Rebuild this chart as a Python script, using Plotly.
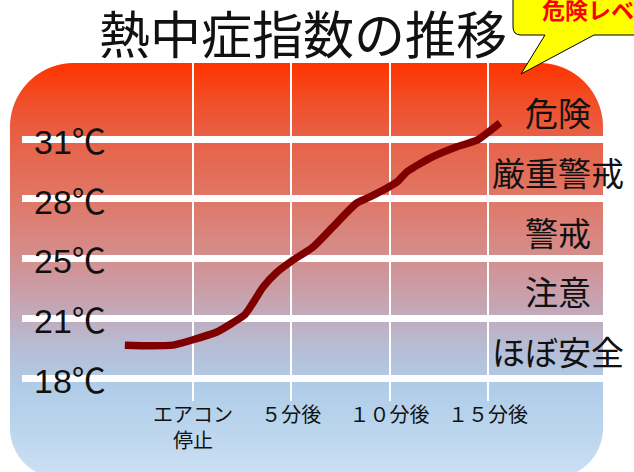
import base64, struct, zlib
import numpy as np
import plotly.graph_objects as go

W, H = 634, 472

# ---- data ----
title_text = "熱中症指数の推移"
x_tick_vals = [0, 5, 10, 15]
x_tick_text = ["エアコン<br>停止", "５分後", "１０分後", "１５分後"]
y_tick_vals = [0, 1, 2, 3, 4]
y_tick_text = ["18℃", "21℃", "25℃", "28℃", "31℃"]
band_labels = ["ほぼ安全", "注意", "警戒", "厳重警戒", "危険"]
callout_text = "危険レベル"

minutes = [-3.46, -2.19, -1.02, 0.0, 1.22, 2.0, 2.64, 3.25, 3.56, 4.27, 5.08,
           6.10, 7.12, 8.34, 9.0, 10.37, 10.88, 12.05, 13.42, 14.44, 15.61]
heat_level = [0.55, 0.54, 0.55, 0.64, 0.77, 0.92, 1.06, 1.36, 1.52, 1.77, 1.97,
              2.19, 2.53, 2.93, 3.03, 3.28, 3.45, 3.68, 3.87, 3.98, 4.27]

# ---- background gradient image (decoration) ----
stops_y = [63, 100, 140, 200, 260, 310, 345, 385, 430, 476]
stops_c = [(255, 51, 0), (242, 78, 40), (232, 98, 72), (224, 120, 104),
           (212, 144, 144), (196, 168, 184), (184, 188, 212), (176, 204, 232),
           (188, 214, 238), (204, 224, 244)]
yy, xx = np.mgrid[0:H, 0:W].astype(float)
py = yy + 0.5
px = xx + 0.5
cols = np.stack([np.interp(py, stops_y, [c[k] for c in stops_c]) for k in range(3)], axis=-1)
X0, X1, Y0, Y1 = 10.0, 603.0, 63.0, 478.0
cx, cy = (X0 + X1) / 2, (Y0 + Y1) / 2
bx, by = (X1 - X0) / 2, (Y1 - Y0) / 2
r = np.where(py < cy, 64.0, 50.0)
qx = np.abs(px - cx) - bx + r
qy = np.abs(py - cy) - by + r
d = np.sqrt(np.maximum(qx, 0) ** 2 + np.maximum(qy, 0) ** 2) + np.minimum(np.maximum(qx, qy), 0) - r
alpha = np.clip(0.5 - d, 0, 1)[..., None]
img = (cols * alpha + 255 * (1 - alpha)).astype(np.uint8)


def png_uri(a):
    h, w, _ = a.shape
    raw = b"".join(b"\x00" + a[i].tobytes() for i in range(h))

    def chunk(t, data):
        c = struct.pack(">I", len(data)) + t + data
        return c + struct.pack(">I", zlib.crc32(t + data) & 0xffffffff)

    png = b"\x89PNG\r\n\x1a\n" + chunk(b"IHDR", struct.pack(">IIBBBBB", w, h, 8, 2, 0, 0, 0)) \
        + chunk(b"IDAT", zlib.compress(raw, 9)) + chunk(b"IEND", b"")
    return "data:image/png;base64," + base64.b64encode(png).decode()


def fx(p):
    return p / W


def fy(p):
    return 1 - p / H


FONT = "Noto Sans CJK JP"
NUMFONT = "Liberation Sans, Noto Sans CJK JP"

# axis pixel geometry
PX_L, PX_R = 22.0, 612.0
PY_T, PY_B = 63.0, 401.0
X_PER_MIN, X_ZERO = 19.67, 192.9
Y_PER_LVL, Y_ZERO = 59.75, 378.0

fig = go.Figure()
fig.add_trace(go.Scatter(
    x=minutes, y=heat_level, mode="lines",
    line=dict(color="#800000", width=7.5, shape="spline", smoothing=0.6),
    hoverinfo="skip", showlegend=False,
))

# callout bubble path
pts = ("M {a},{b} L {c},{b} Q {d},{b} {d},{e} L {d},{f} Q {d},{g} {c},{g} "
       "L {h},{g} L {i},{j} L {k},{g} L {a},{g} Z")
path = pts.format(a=fx(660), b=fy(-12), c=fx(521), d=fx(513), e=fy(-4), f=fy(27),
                  g=fy(35), h=fx(545), i=fx(521), j=fy(74), k=fx(594))

annotations = []
for i, lab in enumerate(band_labels):
    annotations.append(dict(
        text=lab, xref="paper", yref="y", x=fx(558), y=y_tick_vals[i] + 0.5,
        yshift=-3, xanchor="center", yanchor="middle", showarrow=False,
        font=dict(family=FONT, size=33, color="#111111"),
    ))
annotations.append(dict(
    text="<b>" + callout_text + "</b>", xref="paper", yref="paper",
    x=fx(540), y=fy(9), xanchor="left", yanchor="middle", showarrow=False,
    font=dict(family=FONT, size=23, color="#FF0000"),
))

fig.update_layout(
    width=W, height=H, margin=dict(l=0, r=0, t=0, b=0),
    paper_bgcolor="white", plot_bgcolor="rgba(0,0,0,0)",
    template="none", showlegend=False,
    title=dict(text=title_text, x=fx(303), y=fy(36), xanchor="center", yanchor="middle",
               xref="paper", yref="paper",
               font=dict(family=FONT, size=51, color="#111111")),
    images=[dict(source=png_uri(img), xref="paper", yref="paper", x=0, y=1,
                 sizex=1, sizey=1, xanchor="left", yanchor="top",
                 sizing="stretch", layer="below")],
    shapes=[dict(type="path", path=path, xref="paper", yref="paper",
                 fillcolor="#FFFF00", line=dict(color="#000000", width=1), layer="above")],
    annotations=annotations,
    xaxis=dict(domain=[fx(PX_L), fx(PX_R)],
               range=[(PX_L - X_ZERO) / X_PER_MIN, (PX_R - X_ZERO) / X_PER_MIN],
               tickvals=x_tick_vals, ticktext=x_tick_text,
               showgrid=True, gridcolor="white", gridwidth=2,
               zeroline=False, showline=False, ticks="", automargin=False,
               tickfont=dict(family=FONT, size=20, color="#111111"),
               ticklabelstandoff=0),
    yaxis=dict(domain=[fy(PY_B), fy(PY_T)],
               range=[(Y_ZERO - PY_B) / Y_PER_LVL, (Y_ZERO - PY_T) / Y_PER_LVL],
               tickvals=y_tick_vals, ticktext=y_tick_text,
               showgrid=True, gridcolor="white", gridwidth=7,
               zeroline=False, showline=False, ticks="", automargin=False,
               ticklabelposition="inside", ticklabelstandoff=9, ticklabelshift=3,
               tickfont=dict(family=NUMFONT, size=34, color="#111111")),
)

fig.write_html("out.html", config={"displayModeBar": False},
               post_script="document.body.style.margin='0px';")
